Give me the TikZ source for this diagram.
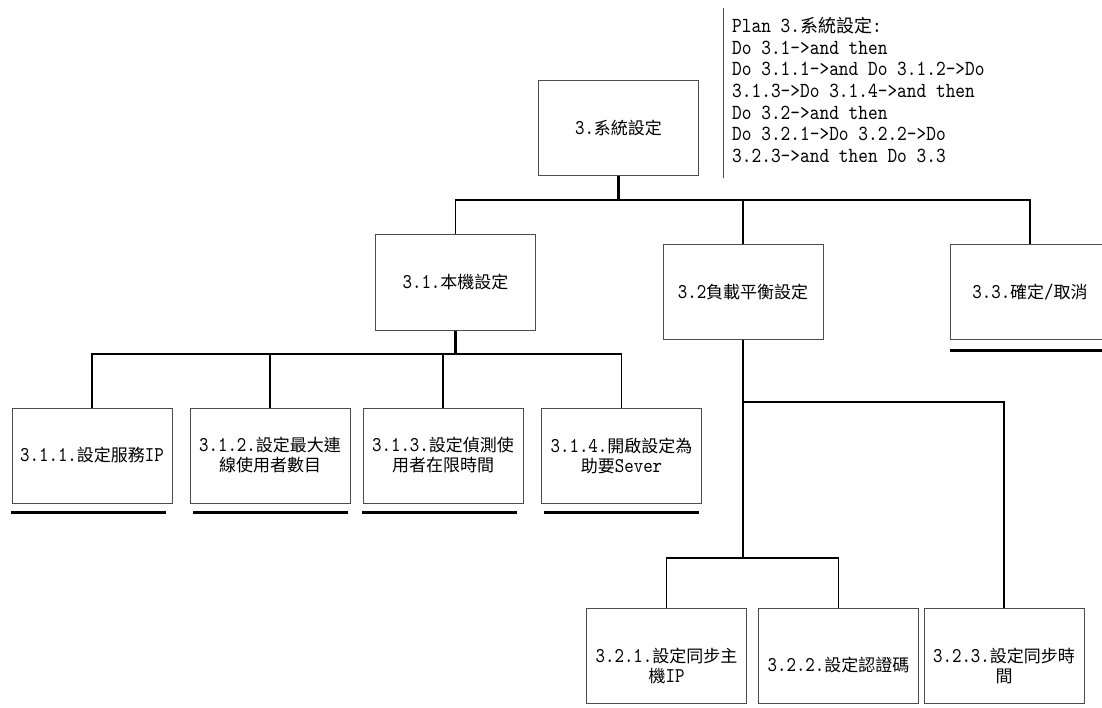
\documentclass[tikz,border=0pt]{standalone}
\usepackage{fontspec}
\setmainfont{Noto Sans CJK TC}
\newfontfamily\latf{lmmono10-regular.otf}[FakeStretch=0.86]
\newcommand\mylat[1]{{\latf\fontsize{21}{20}\selectfont #1}}
\newcommand\plat[1]{{\latf\fontsize{21.5}{21.7}\selectfont #1}}
\begin{document}
\begin{tikzpicture}[x=1pt,y=-1pt,
 box/.style={draw=black!70, line width=1pt, fill=white, minimum width=160pt, minimum height=95pt, inner sep=0pt, align=center, font=\fontsize{17}{20}\selectfont},
 conn/.style={line width=1.6pt, black},
 thk/.style={line width=2.6pt, black},
 uline/.style={line width=3pt, black},
 lbl/.style={align=center, font=\fontsize{17}{20}\selectfont, yshift=-10pt, inner sep=0pt},
 divider/.style={draw=black!70, line width=1pt}
]
\fill[white] (0,0) rectangle (1102,708);
\useasboundingbox (0,0) rectangle (1102,708);

% nodes
\node[box] (root) at (618.5,128.5) {\mylat{3.}系統設定};
\node[box] (n31) at (455.5,282.5) {\mylat{3.1.}本機設定};
\node[box] (n32) at (743,292) {\mylat{3.2}負載平衡設定};
\node[box] (n33) at (1030,292) {\mylat{3.3.}確定\mylat{/}取消};
\node[box] (n311) at (92,455.5) {\mylat{3.1.1.}設定服務\mylat{IP}};
\node[box] (n312) at (270,455.5) {\mylat{3.1.2.}設定最大連\\線使用者數目};
\node[box] (n313) at (443,455.5) {\mylat{3.1.3.}設定偵測使\\用者在限時間};
\node[box] (n314) at (621.5,455.5) {\mylat{3.1.4.}開啟設定為\\助要\mylat{Sever}};
\node[box, label={[lbl]center:{\mylat{3.2.1.}設定同步主\\機\mylat{IP}}}] (n321) at (666.5,655.5) {};
\node[box, label={[lbl]center:{\mylat{3.2.2.}設定認證碼}}] (n322) at (838.5,655.5) {};
\node[box, label={[lbl]center:{\mylat{3.2.3.}設定同步時\\間}}] (n323) at (1004,655.5) {};

% plan text
\node[anchor=north west, inner sep=0pt, align=left, font=\fontsize{18}{21.7}\selectfont] (plan) at (732,17)
 {\plat{Plan 3.}系統設定\plat{:}\\
  \plat{Do 3.1->and then}\\
  \plat{Do 3.1.1->and Do 3.1.2->Do}\\
  \plat{3.1.3->Do 3.1.4->and then}\\
  \plat{Do 3.2->and then}\\
  \plat{Do 3.2.1->Do 3.2.2->Do}\\
  \plat{3.2.3->and then Do 3.3}};
\coordinate (dtop) at (723,8);
\coordinate (dbot) at (723,178);
\draw[divider] (dtop) -- (dbot);

% connectors
\coordinate (b1) at (618.5,200);
\draw[thk] (root.south) -- (b1);
\draw[conn] (n31.north) |- (b1) -| (n33.north);
\draw[conn] (n32.north) -- (n32.north |- b1);

\coordinate (b2) at (455.5,354);
\draw[thk] (n31.south) -- (b2);
\draw[conn] (n311.north) |- (b2) -| (n314.north);
\draw[conn] (n312.north) -- (n312.north |- b2);
\draw[conn] (n313.north) -- (n313.north |- b2);

\coordinate (b3) at (743,402);
\coordinate (b4) at (743,558);
\draw[conn] (n32.south) -- (b4);
\draw[conn] (b3) -| (n323.north);
\draw[conn] (n321.north) |- (b4) -| (n322.north);

% underlines
\draw[uline] (11,512) -- (166,512);
\draw[uline] (193,512) -- (348,512);
\draw[uline] (362,512) -- (517,512);
\draw[uline] (544,512) -- (699,512);
\draw[uline] (950,350) -- (1102,350);
\end{tikzpicture}
\end{document}
